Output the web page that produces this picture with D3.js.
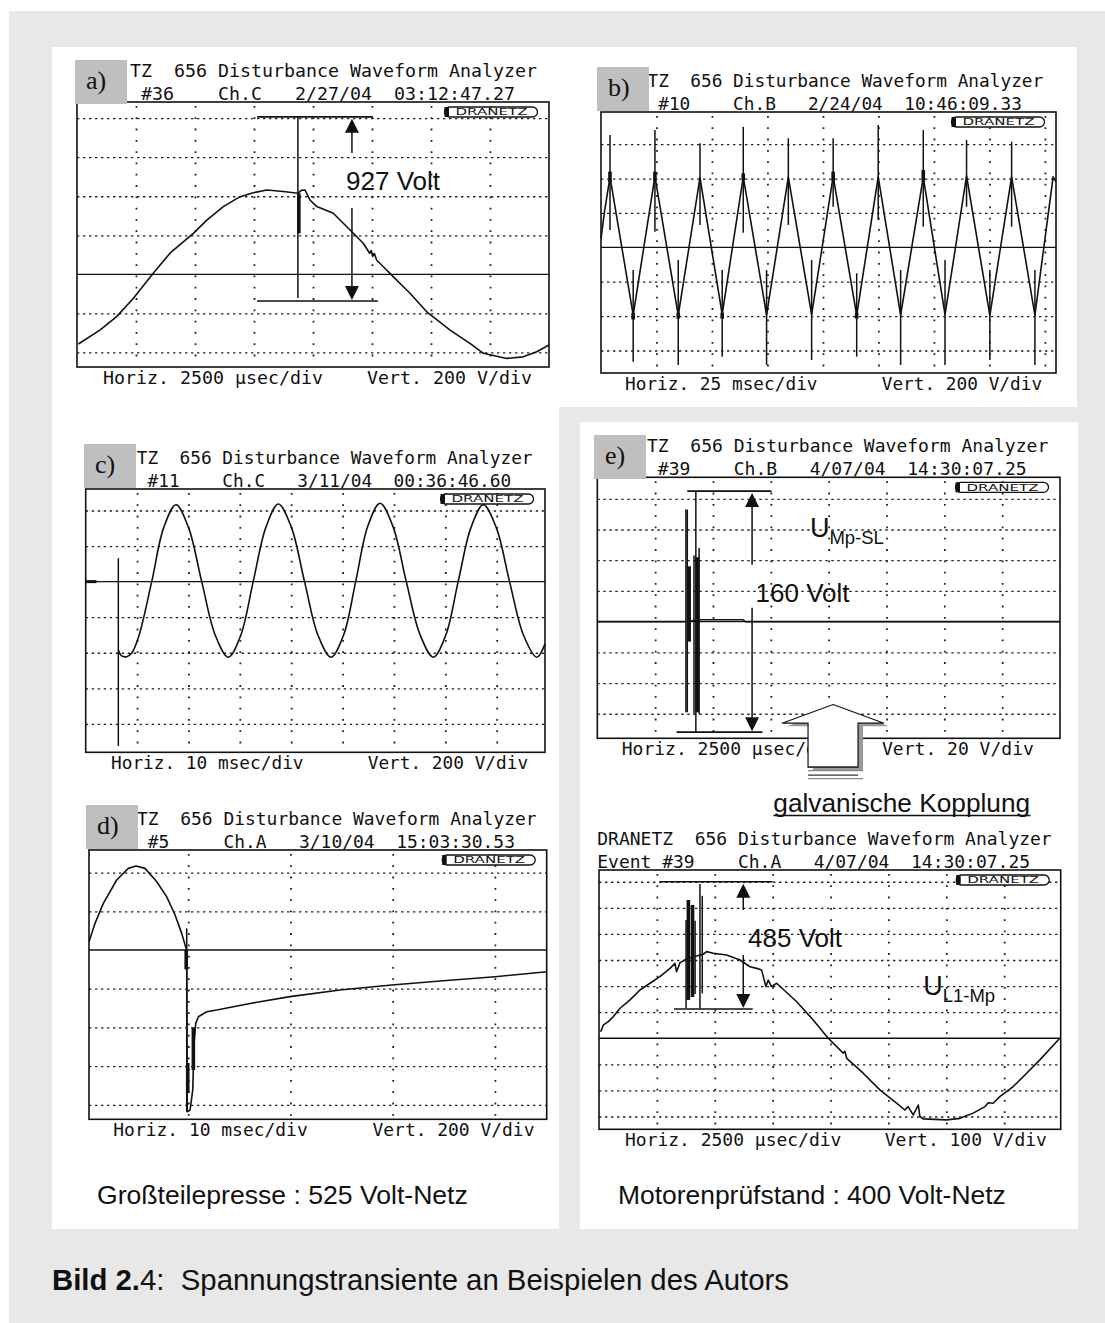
<!DOCTYPE html>
<html><head><meta charset="utf-8">
<script src="https://cdn.jsdelivr.net/npm/d3@7"></script>
<style>body{margin:0;background:#fff}svg{display:block}text{white-space:pre}</style>
</head><body>
<script>
// ---------------- data ----------------
const titleLine = "DRANETZ  656 Disturbance Waveform Analyzer";
const eventA = "Event #36    Ch.C   2/27/04  03:12:47.27";
const eventB = "Event #10    Ch.B   2/24/04  10:46:09.33";
const eventC = "Event #11    Ch.C   3/11/04  00:36:46.60";
const eventD = "Event #5     Ch.A   3/10/04  15:03:30.53";
const eventE1 = "Event #39    Ch.B   4/07/04  14:30:07.25";
const eventE2 = "Event #39    Ch.A   4/07/04  14:30:07.25";
const horizLabels = ["Horiz. 2500 µsec/div","Horiz. 25 msec/div","Horiz. 10 msec/div","Horiz. 10 msec/div","Horiz. 2500 µsec/div","Horiz. 2500 µsec/div"];
const vertLabels = ["Vert. 200 V/div","Vert. 200 V/div","Vert. 200 V/div","Vert. 200 V/div","Vert. 20 V/div","Vert. 100 V/div"];
const panelLetters = ["a)","b)","c)","d)","e)"];

// time in ms, voltage in V
const traceA = [[0.06,-357],[0.97,-286],[1.68,-217],[2.39,-123],[3.23,5],[3.94,108],[4.93,210],[5.5,278],[6.2,347],[6.91,398],[7.47,418],[8.04,432],[8.74,424],[9.36,415],[9.5,430],[9.66,432],[9.87,381],[10.16,347],[10.86,313],[11.57,227],[12.13,159],[12.4,108],[12.47,122],[12.53,92],[12.6,106],[12.7,72],[12.98,39],[13.26,5],[14.11,-97],[14.82,-192],[15.81,-286],[16.65,-354],[17.22,-405],[18.21,-431],[18.91,-423],[19.48,-397],[20,-362]];
const spikesA = [[9.36,807,-122]];
const thickA = [[9.4,415,210]];
const linesA = [[7.63,12.54,807],[7.63,12.75,-137]];
const arrowA = [11.65,807,622,340,-137];
const labelA = ["927 Volt",11.4,432];

const traceB = [[0,50],[1.5,200],[4.05,410],[14.5,-394],[24.3,412],[34.8,-396],[44.6,405],[54.6,-390],[64.1,410],[74.6,-394],[84.4,408],[94.9,-392],[104.6,412],[115.2,-396],[124.9,410],[135,-394],[145.2,408],[155,-392],[164.7,415],[175.2,-396],[185,410],[195.5,-394],[203.7,410],[205,380]];
const spikesB = [[4.05,653,101],[24.3,682,91],[44.6,605,130],[64.1,701,85],[84.4,634,130],[104.6,634,236],[124.9,711,159],[145.2,682,120],[164.7,624,236],[185,614,120],
  [14.5,-132,-665],[34.8,-74,-684],[54.6,-132,-636],[74.6,-132,-684],[94.9,-74,-655],[115.2,-151,-636],[135,-132,-684],[155,-74,-684],[175.2,-132,-655],[195.5,-132,-684]];
const blobsB = [[4.05,440,380],[24.3,440,385],[64.1,430,390],[104.6,440,385],[145.2,450,380],[14.5,-380,-420],[34.8,-380,-415],[54.6,-380,-415],[115.2,-380,-415]];

const traceC = [[6.35,-384],[7.0,-418],[7.98,-422],[9.0,-400],[10.4,-300],[12.85,0],[15.2,305],[17.58,432],[20.0,305],[22.58,0],[25.2,-300],[27.76,-425],[30.2,-300],[32.6,0],[35.1,308],[37.5,437],[40.0,308],[42.6,0],[45.2,-300],[47.75,-425],[50.2,-300],[52.55,0],[54.9,311],[57.29,441],[59.8,311],[62.4,0],[65.1,-300],[67.67,-425],[70.1,-300],[72.5,0],[75.0,305],[77.4,432],[79.9,305],[82.5,0],[85.2,-300],[87.8,-425],[89.4,-350]];
const spikesC = [[6.35,132,-924]];
const markerC = [[0,0],[2.1,0]];

const traceD = [[0.29,43],[0.88,138],[1.69,241],[3.0,362],[4.14,422],[4.89,434],[5.77,422],[6.92,353],[7.9,275],[8.71,181],[9.36,86],[9.69,26],[9.85,0],[9.9,-836],[10.18,-827],[10.44,-723],[10.57,-482],[10.73,-379],[10.99,-345],[11.81,-319],[12.79,-310],[16.05,-276],[19.96,-241],[24.85,-207],[29.91,-181],[34.96,-159],[40.02,-138],[45.08,-112]];
const spikesD = [[9.85,112,-836]];
const thickD = [[9.95,-584,-739],[9.8,0,-100],[10.5,-400,-620]];

const traceE1 = [[0,0],[3.8,0],[4.5,1.2],[6.3,1.2],[6.4,0],[20,0]];
const spikesE1 = [[3.83,73,-59],[3.89,73,-59],[4.18,43,-60],[4.26,85,-72],[4.40,48,-60]];
const thickE1 = [[3.97,36,-13],[4.33,42,-59]];
const linesE1 = [[3.89,7.53,85],[3.43,7.14,-72]];
const arrowE1 = [6.69,85,37,9,-72];
const labelE1 = ["160 Volt",6.84,13];
const symbolE1 = ["U","Mp-SL",9.19,55];
const blockArrowE1 = [10.19,-54];

const traceE2 = [[0.07,25],[0.19,51],[0.4,64],[0.62,83],[0.91,115],[1.34,147],[1.77,185],[2.2,211],[2.63,236],[3.07,268],[3.28,287],[3.35,255],[3.5,290],[3.71,300],[3.76,305],[4.5,322],[4.65,332],[4.94,326],[5.51,319],[6.09,300],[6.52,274],[6.81,268],[7.02,262],[7.21,198],[7.31,223],[7.45,198],[7.67,211],[8.54,140],[9.25,70],[9.9,0],[10.55,-57],[10.62,-50],[10.7,-77],[11.41,-134],[12.13,-198],[12.85,-249],[13.21,-275],[13.35,-262],[13.57,-294],[13.79,-256],[13.86,-300],[14.0,-309],[15.01,-313],[15.59,-307],[16.16,-287],[16.67,-262],[16.81,-247],[17.02,-249],[17.31,-224],[17.89,-185],[18.47,-134],[19.04,-83],[19.9,0]];
const spikesE2 = [[3.76,453,115],[4.15,450,170],[4.36,591,115],[4.46,546,172]];
const thickE2 = [[3.86,530,147],[4.04,511,158]];
const linesE2 = [[2.63,7.5,600],[3.24,6.64,112]];
const arrowE2 = [6.23,600,492,319,112];
const labelE2 = ["485 Volt",6.44,351];
const symbolE2 = ["U","L1-Mp",14.0,166];

const subtitleLeft = "Großteilepresse : 525 Volt-Netz";
const subtitleRight = "Motorenprüfstand : 400 Volt-Netz";
const couplingLabel = "galvanische Kopplung";
const captionBold = "Bild 2.";
const captionRest = "4:  Spannungstransiente an Beispielen des Autors";

// ---------------- layout ----------------
const svg = d3.select("body").append("svg").attr("width",1105).attr("height",1323);
svg.append("rect").attr("width",1105).attr("height",1323).attr("fill","#fff");
svg.append("rect").attr("x",9).attr("y",11).attr("width",1096).attr("height",1312).attr("fill","#e8e8e8");
[[52,47,1025,360],[52,47,507,1182],[580,422,498,807]].forEach(r=>
  svg.append("rect").attr("x",r[0]).attr("y",r[1]).attr("width",r[2]).attr("height",r[3]).attr("fill","#fff"));

const mono = "'DejaVu Sans Mono', 'Liberation Mono', monospace";
const sans = "'Liberation Sans', Arial, sans-serif";
const ink = "#111";

const panels = [
 {box:[77,102,549,367], t:[0,20], v:[-475,883], tt:d3.range(2.5,18,2.5), vt:[-400,-200,200,400,600,800],
  ev:eventA, hdx:-2, cw:11.0, fdx:26, lab:panelLetters[0], ldx:-2, ldy:-42, i:0,
  trace:traceA, spikes:spikesA, thick:thickA, lines:linesA, arrow:arrowA, label:labelA},
 {box:[601,112,1056,373], t:[0,205], v:[-731,787], tt:d3.range(25,201,25), vt:[-600,-400,-200,200,400,600],
  ev:eventB, hdx:-7, cw:10.7, fdx:24, lab:panelLetters[1], ldx:-4, ldy:-45, i:1,
  trace:traceB, spikes:spikesB, thick:blobsB},
 {box:[85.7,489,545,752.3], t:[0,89.4], v:[-960,521], tt:d3.range(10,81,10), vt:[-800,-600,-400,-200,200,400],
  ev:eventC, hdx:-2.4, cw:10.7, fdx:25.3, lab:panelLetters[2], ldx:-1.7, ldy:-45, i:2,
  trace:traceC, curve:d3.curveCatmullRom, spikes:spikesC, thick:[], marker:markerC},
 {box:[89,850,546.7,1119.3], t:[0.29,45.07], v:[-875,517], tt:[10,20,30,40], vt:[-800,-600,-400,-200,200,400],
  ev:eventD, hdx:-6, cw:10.8, fdx:24.3, lab:panelLetters[3], ldx:-3, ldy:-45, i:3,
  trace:traceD, spikes:spikesD, thick:thickD},
 {box:[597.3,477.3,1060,738.3], t:[0,20], v:[-76,94], tt:d3.range(2.5,18,2.5), vt:[-60,-40,-20,20,40,60,80],
  ev:eventE1, hdx:-4.6, cw:10.85, fdx:24.4, lab:panelLetters[4], ldx:-3.3, ldy:-42.3, i:4,
  trace:traceE1, spikes:spikesE1, thick:thickE1, lines:linesE1, arrow:arrowE1, label:labelE1, symbol:symbolE1, block:blockArrowE1},
 {box:[599,870,1060.7,1129.3], t:[0,19.94], v:[-349,645], tt:d3.range(2.5,18,2.5), vt:[-300,-200,-100,100,200,300,400,500,600],
  ev:eventE2, hdx:-1.7, cw:10.82, fdx:26, lab:null, i:5,
  trace:traceE2, spikes:spikesE2, thick:thickE2, lines:linesE2, arrow:arrowE2, label:labelE2, symbol:symbolE2}
];

function arrowHead(g, x, y, dir){ // dir -1 = up, +1 = down; tip at (x,y)
  const w=7, h=14;
  g.append("path").attr("d",`M${x},${y}L${x-w},${y-dir*h}L${x+w},${y-dir*h}Z`).attr("fill",ink);
}

panels.forEach(p=>{
  const [bx0,by0,bx1,by1] = p.box;
  const g = svg.append("g");
  const x = d3.scaleLinear().domain(p.t).range([bx0,bx1]);
  const y = d3.scaleLinear().domain(p.v).range([by1,by0]);
  const fs = p.cw/0.602;
  g.append("rect").attr("x",bx0).attr("y",by0).attr("width",bx1-bx0).attr("height",by1-by0).attr("fill","#fff");
  // grid via axes
  g.append("g").attr("transform",`translate(${bx0},0)`)
    .call(d3.axisRight(y).tickValues(p.vt).tickSize(bx1-bx0).tickFormat(""))
    .call(a=>a.select(".domain").remove())
    .call(a=>a.selectAll("line").attr("stroke","#222").attr("stroke-width",1.3).attr("stroke-dasharray","2.4,3.6"));
  g.append("g").attr("transform",`translate(0,${by0+4})`)
    .call(d3.axisBottom(x).tickValues(p.tt).tickSize(by1-by0-6).tickFormat(""))
    .call(a=>a.select(".domain").remove())
    .call(a=>a.selectAll("line").attr("stroke","#222").attr("stroke-width",1.8).attr("stroke-dasharray","1.8,9.5"));
  // zero line
  g.append("line").attr("x1",bx0).attr("x2",bx1).attr("y1",y(0)).attr("y2",y(0)).attr("stroke",ink).attr("stroke-width",1.3);
  if(p.marker) g.append("path").attr("d",d3.line().x(d=>x(d[0])).y(d=>y(d[1]))(p.marker)).attr("stroke",ink).attr("stroke-width",3);
  // trace
  g.append("path").attr("d",d3.line().curve(p.curve||d3.curveLinear).x(d=>x(d[0])).y(d=>y(d[1]))(p.trace))
    .attr("fill","none").attr("stroke",ink).attr("stroke-width",1.6).attr("stroke-linejoin","round");
  g.selectAll(null).data(p.spikes).join("line")
    .attr("x1",d=>x(d[0])).attr("x2",d=>x(d[0])).attr("y1",d=>y(d[1])).attr("y2",d=>y(d[2]))
    .attr("stroke",ink).attr("stroke-width",1.5);
  g.selectAll(null).data(p.thick).join("line")
    .attr("x1",d=>x(d[0])).attr("x2",d=>x(d[0])).attr("y1",d=>y(d[1])).attr("y2",d=>y(d[2]))
    .attr("stroke",ink).attr("stroke-width",3.6);
  // annotations
  if(p.lines){
    g.selectAll(null).data(p.lines).join("line")
      .attr("x1",d=>x(d[0])).attr("x2",d=>x(d[1])).attr("y1",d=>y(d[2])).attr("y2",d=>y(d[2]))
      .attr("stroke",ink).attr("stroke-width",1.6);
    const [ta,v1,v2,v3,v4] = p.arrow, ax=x(ta);
    g.append("line").attr("x1",ax).attr("x2",ax).attr("y1",y(v1)+12).attr("y2",y(v2)).attr("stroke",ink).attr("stroke-width",1.5);
    g.append("line").attr("x1",ax).attr("x2",ax).attr("y1",y(v3)).attr("y2",y(v4)-12).attr("stroke",ink).attr("stroke-width",1.5);
    arrowHead(g,ax,y(v1)+2,-1);
    arrowHead(g,ax,y(v4)-1,1);
    g.append("text").attr("x",x(p.label[1])).attr("y",y(p.label[2])).attr("font-family",sans).attr("font-size",26).attr("fill",ink).text(p.label[0]);
  }
  if(p.symbol){
    const t = g.append("text").attr("x",x(p.symbol[2])).attr("y",y(p.symbol[3])).attr("font-family",sans).attr("font-size",27).attr("fill",ink);
    t.append("tspan").text(p.symbol[0]);
    t.append("tspan").attr("dy",6.7).attr("font-size",18.5).text(p.symbol[1]);
  }
  // box border
  g.append("rect").attr("x",bx0).attr("y",by0).attr("width",bx1-bx0).attr("height",by1-by0).attr("fill","none").attr("stroke",ink).attr("stroke-width",1.6);
  // logo
  const lw=93, lh=10, lx=bx1-11.5-lw, ly=by0+5;
  g.append("rect").attr("x",lx).attr("y",ly).attr("width",lw).attr("height",lh).attr("rx",5).attr("fill","#fff").attr("stroke",ink).attr("stroke-width",1.3);
  g.append("rect").attr("x",lx).attr("y",ly).attr("width",4.5).attr("height",lh).attr("fill",ink);
  g.append("text").attr("x",lx+11).attr("y",ly+lh-1.6).attr("font-family","'DejaVu Sans'").attr("font-size",9)
    .attr("textLength",72).attr("lengthAdjust","spacingAndGlyphs").attr("fill",ink).text("DRANETZ");
  // header (part hidden behind the label box is not drawn)
  const hx = bx0 + p.hdx;
  const s1 = p.lab ? 5 : 0, s2 = p.lab ? 6 : 0;
  g.append("text").attr("x",hx+s1*p.cw).attr("y",by0-25).attr("font-family",mono).attr("font-size",fs).attr("fill",ink).text(titleLine.slice(s1));
  g.append("text").attr("x",hx+s2*p.cw).attr("y",by0-2.5).attr("font-family",mono).attr("font-size",fs).attr("fill",ink).text(p.ev.slice(s2));
  if(p.lab){
    g.append("rect").attr("x",bx0+p.ldx).attr("y",by0+p.ldy).attr("width",52).attr("height",44).attr("fill","#bfbfbf");
    g.append("text").attr("x",bx0+p.ldx+11).attr("y",by0+p.ldy+29).attr("font-family","'Liberation Serif', 'Times New Roman', serif")
      .attr("font-size",26).attr("fill",ink).text(p.lab);
  }
  // footer
  g.append("text").attr("x",bx0+p.fdx).attr("y",by1+16.5).attr("font-family",mono).attr("font-size",fs).attr("fill",ink)
    .text(horizLabels[p.i].padEnd(24," ")+vertLabels[p.i]);
  // block arrow (galvanic coupling)
  if(p.block){
    const cx = x(p.block[0]), cy = y(p.block[1]);
    const pts = [[0,0],[51,18.7],[25,18.7],[25,62.7],[-25,62.7],[-25,18.7],[-51,18.7]];
    const poly = (dx,dy)=>"M"+pts.map(q=>[cx+q[0]+dx,cy+q[1]+dy].join(",")).join("L")+"Z";
    svg.append("path").attr("d",poly(5,3)).attr("fill","#9a9a9a");
    svg.append("path").attr("d",poly(0,0)).attr("fill","#fff").attr("stroke",ink).attr("stroke-width",1.2);
    [0,3.5,8,11.5].forEach((o,k)=>svg.append("line").attr("x1",cx-25).attr("x2",cx+25+(k%2?5:0)).attr("y1",cy+62.7+o).attr("y2",cy+62.7+o)
      .attr("stroke",k%2?"#8a8a8a":"#333").attr("stroke-width",1.3));
  }
});

// ---------------- texts ----------------
function fitText(sel, target){
  const fs = +sel.attr("font-size");
  const w = sel.node().getComputedTextLength();
  sel.attr("font-size", fs*target/w);
}
const gl = svg.append("text").attr("x",773.3).attr("y",811.5).attr("font-family",sans).attr("font-size",26).attr("fill",ink).text(couplingLabel);
fitText(gl,257);
svg.append("line").attr("x1",773.3).attr("x2",1030.5).attr("y1",815.5).attr("y2",815.5).attr("stroke",ink).attr("stroke-width",1.6);

const sl = svg.append("text").attr("x",97).attr("y",1204).attr("font-family",sans).attr("font-size",26).attr("fill",ink).text(subtitleLeft);
fitText(sl,371);
const sr = svg.append("text").attr("x",618).attr("y",1204).attr("font-family",sans).attr("font-size",26).attr("fill",ink).text(subtitleRight);
fitText(sr,388);
const cap = svg.append("text").attr("x",52).attr("y",1290).attr("font-family",sans).attr("font-size",26).attr("fill",ink);
cap.append("tspan").attr("font-weight","bold").text(captionBold);
cap.append("tspan").text(captionRest);
fitText(cap,737);
</script>
</body></html>
